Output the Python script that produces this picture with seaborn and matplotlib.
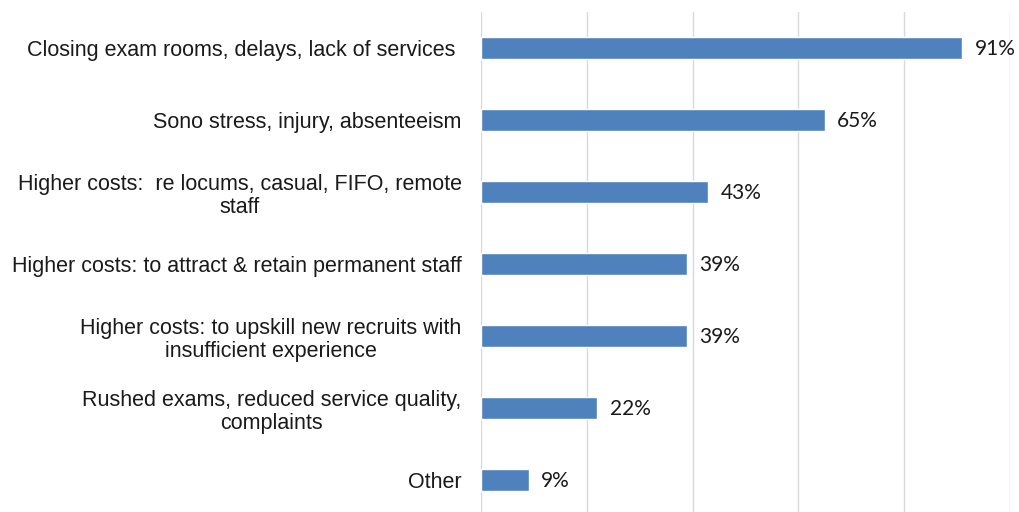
import matplotlib
matplotlib.use("Agg")
import matplotlib.pyplot as plt
import seaborn as sns
import pandas as pd

categories = [
    "Closing exam rooms, delays, lack of services ",
    "Sono stress, injury, absenteeism",
    "Higher costs:  re locums, casual, FIFO, remote\nstaff",
    "Higher costs: to attract & retain permanent staff",
    "Higher costs: to upskill new recruits with\ninsufficient experience",
    "Rushed exams, reduced service quality,\ncomplaints",
    "Other",
]
values = [91, 65, 43, 39, 39, 22, 9]
value_labels = ["91%", "65%", "43%", "39%", "39%", "22%", "9%"]

df = pd.DataFrame({"category": categories, "value": values})

sns.set_theme(style="white")
plt.rcParams["font.family"] = ["Liberation Sans", "DejaVu Sans"]

fig = plt.figure(figsize=(10.19, 5.12), dpi=100)
ax = fig.add_axes([481 / 1019, 0.0, (1010 - 481) / 1019, 1 - 12 / 512])

sns.barplot(data=df, x="value", y="category", orient="h", color="#4F81BD",
            saturation=1, width=0.31, ax=ax)

ax.set_xlim(0, 100)
ax.set_ylim(6 + 32 / 72, -0.5)
ax.set_xticks([0, 20, 40, 60, 80, 100])
ax.set_xticklabels([])
ax.grid(axis="x", color="#d9d9d9", linewidth=1)
ax.set_axisbelow(True)
for s in ax.spines.values():
    s.set_visible(False)
ax.tick_params(axis="both", length=0)
ax.tick_params(axis="y", pad=14)
ax.set_xlabel("")
ax.set_ylabel("")

for lbl in ax.get_yticklabels():
    lbl.set_fontsize(15.5)
    lbl.set_color("#1a1a1a")
    lbl.set_multialignment("center")
    lbl.set_linespacing(1.15)

for i, (v, t) in enumerate(zip(values, value_labels)):
    ax.text(v + 2.3, i + 0.02, t, va="center", ha="left", fontsize=15,
            color="#1a1a1a", family=["Lato", "DejaVu Sans"])

fig.savefig("out.png", dpi=100)
